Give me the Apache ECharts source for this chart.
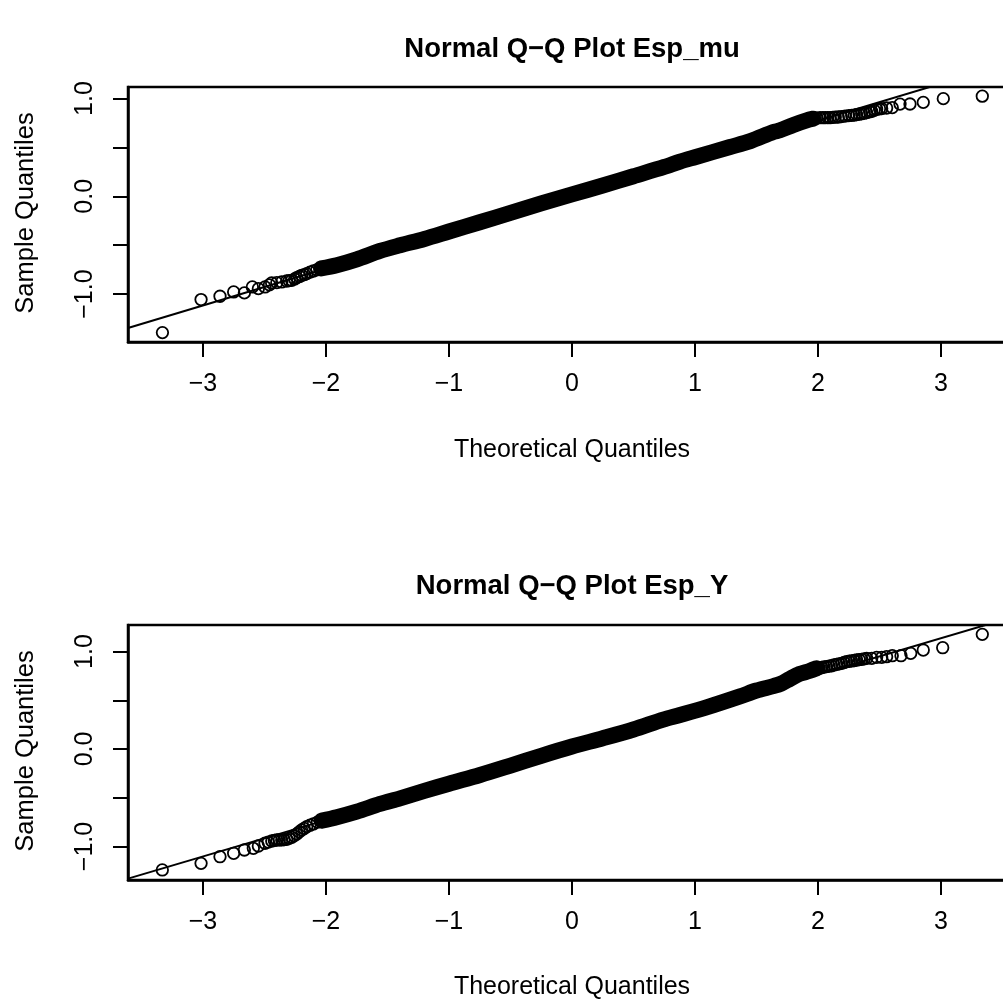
<!DOCTYPE html>
<html>
<head>
<meta charset="utf-8">
<title>Normal Q-Q Plots</title>
<script src="https://cdn.jsdelivr.net/npm/echarts@6/dist/echarts.min.js"></script>
<style>
  html, body { margin: 0; padding: 0; background: #fff; }
  #chart { width: 1003px; height: 1001px; }
</style>
</head>
<body>
<div id="chart"></div>
<script>
// Tick positions and labels
const xTicks = [-3, -2, -1, 0, 1, 2, 3];
const yTicks = [-1, -0.5, 0, 0.5, 1];
const yLabelValues = [-1, 0, 1];

// Axis extents (theoretical / sample quantiles)
const xRange = [-3.61, 3.61];
const muRange = [-1.49, 1.118];
const espYRange = [-1.344, 1.272];

// Esp_mu: separately visible points in the tails [theoretical, sample]
const muPoints = [
  [-3.33, -1.394], [-3.016, -1.056], [-2.862, -1.022], [-2.751, -0.978],
  [-2.664, -0.988], [-2.599, -0.927], [-2.55, -0.944], [-2.496, -0.927],
  [-2.46, -0.905], [-2.442, -0.886], [-2.40, -0.883], [-2.36, -0.876],
  [-2.32, -0.866], [-2.30, -0.862], [-2.279, -0.859], [-2.255, -0.845],
  [-2.238, -0.832], [-2.215, -0.82], [-2.198, -0.808], [-2.175, -0.80],
  [-2.157, -0.791], [-2.13, -0.775], [-2.103, -0.764], [-2.075, -0.752],
  [-2.049, -0.74], [-2.02, -0.728],
  [1.99, 0.80], [2.016, 0.804], [2.04, 0.804], [2.06, 0.804], [2.08, 0.805],
  [2.098, 0.804], [2.12, 0.807], [2.14, 0.809], [2.165, 0.811], [2.19, 0.815],
  [2.22, 0.821], [2.25, 0.825], [2.274, 0.828], [2.295, 0.831], [2.315, 0.835],
  [2.335, 0.84], [2.355, 0.845], [2.376, 0.85], [2.396, 0.856], [2.42, 0.865],
  [2.437, 0.869], [2.457, 0.88], [2.477, 0.89], [2.50, 0.895], [2.518, 0.897],
  [2.558, 0.903], [2.604, 0.907], [2.667, 0.943], [2.748, 0.944],
  [2.856, 0.961], [3.019, 0.999], [3.336, 1.024]
];
// Esp_mu: dense central run of points
const muCore = [
  [-2.04, -0.738], [-1.913, -0.705], [-1.75, -0.645], [-1.561, -0.559],
  [-1.398, -0.501], [-1.2, -0.436], [-1.0, -0.36], [-0.75, -0.265],
  [-0.5, -0.17], [-0.25, -0.072], [0.0, 0.02], [0.25, 0.11],
  [0.5, 0.205], [0.75, 0.30], [0.878, 0.355], [1.0, 0.40], [1.285, 0.504],
  [1.45, 0.565], [1.637, 0.657], [1.691, 0.675], [1.80, 0.73],
  [1.908, 0.777], [1.962, 0.794]
];
// Esp_mu: reference line through the quartiles
const muLine = [[-3.61, -1.347], [3.61, 1.383]];

// Esp_Y: separately visible points in the tails
const espYPoints = [
  [-3.331, -1.241], [-3.016, -1.173], [-2.862, -1.105], [-2.751, -1.07],
  [-2.664, -1.036], [-2.591, -1.019], [-2.55, -0.995], [-2.496, -0.967],
  [-2.47, -0.955], [-2.441, -0.944], [-2.42, -0.938], [-2.40, -0.933],
  [-2.38, -0.933], [-2.36, -0.933], [-2.34, -0.93], [-2.32, -0.927],
  [-2.30, -0.917], [-2.279, -0.906], [-2.26, -0.89], [-2.238, -0.872],
  [-2.218, -0.85], [-2.198, -0.831], [-2.178, -0.815], [-2.157, -0.797],
  [-2.13, -0.782], [-2.103, -0.769], [-2.07, -0.75], [-2.035, -0.735],
  [2.01, 0.832], [2.03, 0.838], [2.05, 0.842], [2.07, 0.845], [2.09, 0.85],
  [2.111, 0.854], [2.13, 0.862], [2.152, 0.869], [2.172, 0.874], [2.193, 0.879],
  [2.213, 0.888], [2.233, 0.896], [2.254, 0.9], [2.274, 0.903], [2.295, 0.908],
  [2.315, 0.913], [2.335, 0.917], [2.355, 0.92], [2.376, 0.925], [2.396, 0.93],
  [2.437, 0.93], [2.477, 0.94], [2.518, 0.94], [2.558, 0.947], [2.604, 0.957],
  [2.675, 0.957], [2.754, 0.981], [2.856, 1.015], [3.014, 1.039], [3.336, 1.176]
];
// Esp_Y: dense central run of points
const espYCore = [
  [-2.035, -0.735], [-1.913, -0.70], [-1.75, -0.643], [-1.561, -0.564],
  [-1.398, -0.506], [-1.2, -0.43], [-1.0, -0.356], [-0.748, -0.267],
  [-0.5, -0.17], [-0.25, -0.07], [0.0, 0.025], [0.25, 0.11],
  [0.5, 0.20], [0.742, 0.302], [0.878, 0.349], [1.1, 0.43], [1.366, 0.54],
  [1.5, 0.60], [1.637, 0.645], [1.70, 0.67], [1.772, 0.72], [1.85, 0.77],
  [1.93, 0.80], [1.989, 0.828]
];
// Esp_Y: reference line through the quartiles
const espYLine = [[-3.61, -1.330], [3.61, 1.364]];

const FONT = '"Liberation Sans", Arial, Helvetica, sans-serif';
const INK = '#000';

const minus = s => s.replace('-', '\u2212');
const fmtX = v => minus(String(v));
const fmtY = v => minus(v.toFixed(1));

const panels = [
  { top: 87, range: muRange, points: muPoints, core: muCore, line: muLine },
  { top: 625, range: espYRange, points: espYPoints, core: espYCore, line: espYLine }
];

// Plot frames run past the right edge of the page, as the frame is cut there
const grid = panels.map(p => ({
  left: 128, top: p.top, width: 888, height: 255,
  outerBoundsMode: 'none', containLabel: false,
  show: true, borderColor: INK, borderWidth: 2.5, backgroundColor: 'transparent'
}));

const xAxis = panels.map((p, i) => ({
  gridIndex: i, type: 'value', min: xRange[0], max: xRange[1],
  axisLine: { show: true, onZero: false, lineStyle: { color: INK, width: 2.5 } },
  axisTick: { show: true, inside: false, length: 15, customValues: xTicks,
              lineStyle: { color: INK, width: 2 } },
  axisLabel: { customValues: xTicks, formatter: fmtX, margin: 30,
               color: INK, fontFamily: FONT, fontSize: 25 },
  splitLine: { show: false }
}));

const yAxis = panels.map((p, i) => ({
  gridIndex: i, type: 'value', min: p.range[0], max: p.range[1],
  axisLine: { show: true, onZero: false, lineStyle: { color: INK, width: 2.5 } },
  axisTick: { show: true, inside: false, length: 15, customValues: yTicks,
              lineStyle: { color: INK, width: 2 } },
  axisLabel: { customValues: yLabelValues, formatter: fmtY, margin: 30, rotate: 90,
               color: INK, fontFamily: FONT, fontSize: 25 },
  splitLine: { show: false }
}));

const series = [];
panels.forEach((p, i) => {
  series.push({
    type: 'line', xAxisIndex: i, yAxisIndex: i, data: p.core,
    symbol: 'none', smooth: 0.3,
    lineStyle: { color: INK, width: 16, cap: 'round', join: 'round' }
  });
  series.push({
    type: 'scatter', xAxisIndex: i, yAxisIndex: i, data: p.points,
    symbol: 'circle', symbolSize: 11.5,
    itemStyle: { color: 'rgba(0,0,0,0)', borderColor: INK, borderWidth: 1.8, opacity: 1 }
  });
  series.push({
    type: 'line', xAxisIndex: i, yAxisIndex: i, data: p.line,
    symbol: 'none', clip: true,
    lineStyle: { color: INK, width: 2 }
  });
});

const text = (t, x, y, size, weight, rotation) => ({
  type: 'text', x: x, y: y, rotation: rotation || 0,
  style: { text: t, fill: INK, font: `${weight} ${size}px ${FONT}`,
           align: 'center', verticalAlign: 'middle' }
});

const graphic = [
  text('Normal Q\u2212Q Plot Esp_mu', 572, 49, 27.5, 'bold'),
  text('Theoretical Quantiles', 572, 450, 25, 'normal'),
  text('Sample Quantiles', 26, 213, 25.5, 'normal', Math.PI / 2),
  text('Normal Q\u2212Q Plot Esp_Y', 572, 586, 27.5, 'bold'),
  text('Theoretical Quantiles', 572, 987, 25, 'normal'),
  text('Sample Quantiles', 26, 751, 25.5, 'normal', Math.PI / 2)
];

const chart = echarts.init(document.getElementById('chart'), null, { renderer: 'canvas' });
chart.setOption({
  animation: false,
  backgroundColor: '#fff',
  grid, xAxis, yAxis, series, graphic
});
</script>
</body>
</html>
